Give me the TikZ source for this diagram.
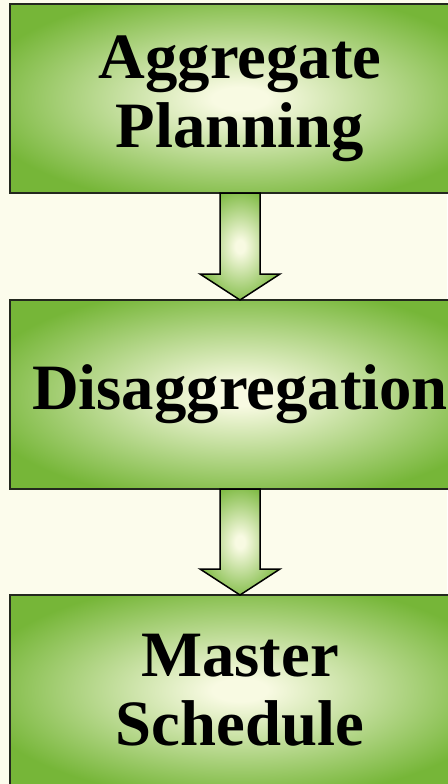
\documentclass[tikz,border=0pt]{standalone}
\usepackage{fontspec}
\setmainfont{Liberation Serif}
\usepackage{tikz}
\usetikzlibrary{positioning, calc}
\definecolor{bgcream}{RGB}{252,252,236}
\definecolor{leafgreen}{RGB}{118,182,56}
\definecolor{glowcore}{RGB}{248,250,226}
\definecolor{edgeline}{RGB}{35,40,30}
\pgfdeclareradialshading{glow}{\pgfpoint{0bp}{0bp}}{color(0bp)=(glowcore); color(3bp)=(glowcore); color(29bp)=(leafgreen); color(50bp)=(leafgreen)}
\tikzstyle{stage} = [rectangle, draw=edgeline, line width=1.5pt, shading=glow,
                     minimum width=460pt, minimum height=189pt, inner sep=0pt, outer sep=0pt,
                     align=center, font=\fontsize{64.7}{69}\selectfont\bfseries]
\tikzstyle{blockarr} = [draw=black, line width=1.5pt, shading=glow, line join=miter]

\begin{document}
\begin{tikzpicture}[x=1pt, y=-1pt, node distance=107pt]
    \fill[bgcream] (0,0) rectangle (447,784);
    \useasboundingbox (0,0) rectangle (447,784);

    \node[stage] (agg) at (240,98.5) {Aggregate\\Planning};
    \node[stage, below=of agg] (dis) {Disaggregation};
    \node[stage, below=106pt of dis, minimum height=190pt] (mps) {Master\\Schedule};

    \foreach \from/\to in {agg/dis, dis/mps}
      \path[blockarr] ($(\from.south)+(-20,0)$) -- ($(\to.north)+(-20,-26)$)
        -- ($(\to.north)+(-40,-26)$) -- (\to.north) -- ($(\to.north)+(40,-26)$)
        -- ($(\to.north)+(20,-26)$) -- ($(\from.south)+(20,0)$) -- cycle;
  \end{tikzpicture}
\end{document}
